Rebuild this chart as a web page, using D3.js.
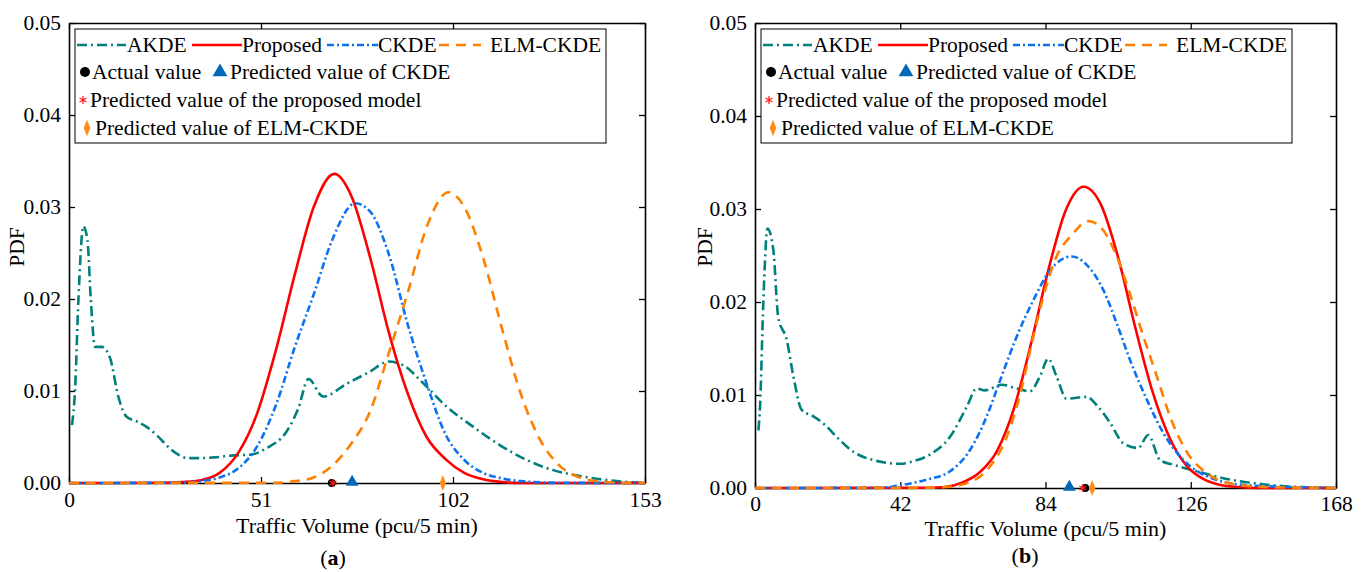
<!DOCTYPE html>
<html lang="en">
<head>
<meta charset="utf-8">
<title>PDF of traffic volume – (a) and (b)</title>
<style>
  html, body { margin:0; padding:0; background:#fff; }
  svg { display:block; font-family:"Liberation Serif","DejaVu Serif",serif; }
  text { font-family:"Liberation Serif","DejaVu Serif",serif; fill:#000; }
  .axis path, .axis line { stroke:#000; }
  .axis path { stroke-width:1.6; }
  .axis line { stroke-width:1.3; }
  .axis text { font-size:21.5px; }
</style>
</head>
<body>
<svg id="chart" width="1365" height="572"></svg>
<script src="https://cdn.jsdelivr.net/npm/d3@7"></script>
<script>
// --- panel (a): [traffic volume, pdf]
const akdeA = [[0.8,0.0063],[1.6,0.0101],[2.5,0.0199],[3.8,0.0279],[4.9,0.0264],[5.8,0.0199],[6.9,0.0148],
  [8.7,0.0148],[10.9,0.0136],[13.1,0.0094],[15.3,0.0072],[18,0.0067],[20.6,0.0061],[23.3,0.0052],
  [25.9,0.0041],[28.6,0.0032],[31.7,0.0027],[34.8,0.0027],[39,0.0028],[43.6,0.0030],[48.5,0.0031],
  [52.5,0.0038],[57.8,0.0056],[60.9,0.0081],[63.6,0.0113],[67.5,0.0094],[73.8,0.0108],[79.9,0.0121],
  [84.8,0.0132],[88.8,0.0128],[93.7,0.0110],[100.3,0.0083],[107.4,0.0061],[114.5,0.0041],
  [121.6,0.0025],[128.6,0.0014],[136.6,0.0007],[145.5,0.0002],[153,0]];
const propA = [[0,0],[25,0.00002],[30,0.0001],[35,0.0003],[40,0.0011],[45,0.0033],[50,0.0076],[55,0.0145],
  [60,0.0227],[65,0.0300],[70.5,0.0336],[75,0.0312],[80,0.0245],[85,0.0163],[90,0.0097],[95,0.0050],
  [100,0.0026],[105,0.0011],[110,0.0004],[115,0.0001],[120,0],[153,0]];
const ckdeA = [[0,0],[30,0.00003],[35,0.0002],[40,0.0006],[45,0.0016],[50,0.0040],[55,0.0085],[60,0.0148],
  [65,0.0205],[70,0.0265],[76,0.0304],[80,0.0295],[85,0.0248],[90,0.0172],[95,0.0108],[100,0.0053],
  [105,0.0025],[110,0.0011],[115,0.0005],[120,0.0002],[130,0.00003],[153,0]];
const elmA = [[0,0],[55,0.00003],[60,0.0002],[65,0.0006],[70,0.0019],[75,0.0043],[80,0.0078],[85,0.0142],
  [90,0.0207],[95,0.0278],[100.8,0.0316],[105,0.0300],[110,0.0245],[115,0.0168],[120,0.0097],
  [125,0.0048],[130,0.0020],[135,0.0007],[140,0.0002],[145,0.00005],[153,0]];
const marksA = { actual:69.8, proposed:70.1, ckde:75.2, elm:99.3 };
const xTicksA = [0, 51, 102, 153];

// --- panel (b)
const akdeB = [[1.0,0.0062],[1.45,0.0087],[2.4,0.0199],[3.6,0.0279],[5.3,0.0256],[6.7,0.0184],[9.2,0.0159],
  [11.1,0.0120],[13.5,0.0084],[16.9,0.0077],[20.2,0.0068],[23.6,0.0055],[28.4,0.0039],[34.2,0.0030],
  [41.9,0.0026],[46,0.0029],[50.6,0.0036],[56.4,0.0055],[61.2,0.0087],[64.1,0.0107],[66.5,0.0105],
  [71.3,0.0111],[75.7,0.0107],[79.5,0.0104],[82.4,0.0120],[84.8,0.0139],[87.2,0.0120],[90.1,0.0096],
  [95.9,0.0098],[98.8,0.0089],[102.7,0.0070],[106.5,0.0048],[110.8,0.0043],[113.7,0.0057],
  [117.1,0.0030],[121,0.0025],[127.7,0.0018],[137.4,0.0009],[147,0.0004],[156.6,0.0001],[168,0]];
const propB = [[0,0],[50,0.00002],[55,0.0001],[60,0.0006],[65,0.0017],[70,0.0040],[75,0.0087],[80,0.0158],
  [85,0.0237],[90,0.0300],[95,0.0324],[100,0.0305],[105,0.0248],[110,0.0172],[115,0.0103],[120,0.0053],
  [125,0.0023],[130,0.0009],[135,0.0003],[140,0.0001],[145,0],[168,0]];
const ckdeB = [[0,0],[36,0.00002],[42,0.0003],[49.6,0.0009],[56.4,0.0018],[62.2,0.0041],[67,0.0077],
  [70.9,0.0116],[75.7,0.0163],[80.5,0.0202],[85.3,0.0234],[91.6,0.0249],[95.9,0.0240],[100.7,0.0213],
  [104.6,0.0177],[108.4,0.0138],[113.3,0.0095],[118.1,0.0059],[123.9,0.0030],[132.5,0.0010],
  [142.2,0.0003],[156.6,0.0001],[168,0]];
const elmB = [[0,0],[50.6,0.00002],[55,0.0001],[60.2,0.0004],[67,0.0019],[72.8,0.0055],[76.6,0.0100],
  [80.5,0.0163],[83.9,0.0213],[87.2,0.0249],[91.6,0.0272],[96.4,0.0287],[99.8,0.0281],[104.6,0.0249],
  [108.4,0.0209],[112.3,0.0163],[116.2,0.0120],[120,0.0077],[124.8,0.0039],[130.6,0.0016],
  [137.4,0.0005],[147,0.0001],[168,0]];
const marksB = { actual:95.5, proposed:94.8, ckde:90.9, elm:97.5 };
const xTicksB = [0, 42, 84, 126, 168];

const yTicks = [0, 0.01, 0.02, 0.03, 0.04, 0.05];
const seriesNames = ["AKDE", "Proposed", "CKDE", "ELM-CKDE"];

// line styles
const styles = {
  "AKDE":     { color:"#00807b", dash:"10,4,2,4" },
  "Proposed": { color:"#ff0000", dash:null },
  "CKDE":     { color:"#0a72f0", dash:"7,3,2,3" },
  "ELM-CKDE": { color:"#ff8000", dash:"10,7" }
};
const markColor = { actual:"#000", proposed:"#ff2020", ckde:"#0068b8", elm:"#ff8c1a" };

const panels = [
  { tag:"a", left:69, right:645, top:23, bottom:483, xMax:153, xTicks:xTicksA, tickPad:9,
    data:[akdeA, propA, ckdeA, elmA], marks:marksA, xLabelGap:50, tagY:565, tagX:333, pdfX:24 },
  { tag:"b", left:755, right:1336, top:23, bottom:488, xMax:168, xTicks:xTicksB, tickPad:8,
    data:[akdeB, propB, ckdeB, elmB], marks:marksB, xLabelGap:48, tagY:563, tagX:1025, pdfX:712 }
];

const svg = d3.select("#chart");
const sym = (type, size) => d3.symbol().type(type).size(size)();

function drawMarks(g, x, y, m) {
  // markers of the values, sitting on the zero line
  g.append("circle").attr("cx", x(m.actual)).attr("cy", y(0)).attr("r", 4).attr("fill", markColor.actual);
  g.append("path").attr("d", sym(d3.symbolAsterisk, 45))
    .attr("transform", `translate(${x(m.proposed)},${y(0)})`)
    .attr("fill", "none").attr("stroke", markColor.proposed).attr("stroke-width", 1.3);
  g.append("path").attr("d", sym(d3.symbolTriangle, 70))
    .attr("transform", `translate(${x(m.ckde)},${y(0) - 1})`).attr("fill", markColor.ckde);
  g.append("path").attr("d", sym(d3.symbolDiamond, 55))
    .attr("transform", `translate(${x(m.elm)},${y(0)}) scale(0.8,1.15)`).attr("fill", markColor.elm);
}

panels.forEach(p => {
  const x = d3.scaleLinear().domain([0, p.xMax]).range([p.left, p.right]);
  const y = d3.scaleLinear().domain([0, 0.05]).range([p.bottom, p.top]);
  const g = svg.append("g");

  // frame + inward ticks on all four sides
  g.append("g").attr("class", "axis").attr("transform", `translate(0,${p.bottom})`)
    .call(d3.axisBottom(x).tickValues(p.xTicks).tickFormat(d3.format("d"))
      .tickSizeInner(-6).tickSizeOuter(0).tickPadding(p.tickPad));
  g.append("g").attr("class", "axis").attr("transform", `translate(0,${p.top})`)
    .call(d3.axisTop(x).tickValues(p.xTicks).tickFormat("").tickSizeInner(-6).tickSizeOuter(0));
  g.append("g").attr("class", "axis").attr("transform", `translate(${p.left},0)`)
    .call(d3.axisLeft(y).tickValues(yTicks).tickFormat(d3.format(".2f"))
      .tickSizeInner(-6).tickSizeOuter(0).tickPadding(8));
  g.append("g").attr("class", "axis").attr("transform", `translate(${p.right},0)`)
    .call(d3.axisRight(y).tickValues(yTicks).tickFormat("").tickSizeInner(-6).tickSizeOuter(0));
  g.selectAll(".axis").attr("font-family", null);

  const line = d3.line().x(d => x(d[0])).y(d => y(d[1])).curve(d3.curveMonotoneX);
  seriesNames.forEach((name, i) => {
    g.append("path").datum(p.data[i]).attr("d", line)
      .attr("fill", "none").attr("stroke", styles[name].color).attr("stroke-width", 2.6)
      .attr("stroke-dasharray", styles[name].dash);
  });
  drawMarks(g, x, y, p.marks);

  // axis titles
  g.append("text").attr("x", (p.left + p.right) / 2).attr("y", p.bottom + p.xLabelGap)
    .attr("text-anchor", "middle").attr("font-size", 22).text("Traffic Volume (pcu/5 min)");
  g.append("text").attr("transform", `translate(${p.pdfX},${247}) rotate(-90)`)
    .attr("text-anchor", "middle").attr("font-size", 21.5).text("PDF");
  const tg = g.append("text").attr("x", p.tagX).attr("y", p.tagY)
    .attr("text-anchor", "middle").attr("font-size", 22);
  tg.append("tspan").text("(");
  tg.append("tspan").attr("font-weight", "bold").text(p.tag);
  tg.append("tspan").text(")");

  // legend
  const lx = p.left + 6, ly = 29;
  const lg = g.append("g").attr("transform", `translate(${lx},${ly})`);
  lg.append("rect").attr("width", 531).attr("height", 114).attr("fill", "#fff")
    .attr("stroke", "#000").attr("stroke-width", 1);
  const row1 = [[2, 51, 52], [117, 167, 167], [252, 303, 303], [364, 406, 415]];
  seriesNames.forEach((name, i) => {
    const [a, b, t] = row1[i];
    lg.append("line").attr("x1", a).attr("x2", b).attr("y1", 16).attr("y2", 16)
      .attr("stroke", styles[name].color).attr("stroke-width", 2.6)
      .attr("stroke-dasharray", styles[name].dash);
    lg.append("text").attr("x", t).attr("y", 23).attr("font-size", 21.5).text(name);
  });
  lg.append("circle").attr("cx", 10).attr("cy", 43).attr("r", 5).attr("fill", markColor.actual);
  lg.append("text").attr("x", 17).attr("y", 50).attr("font-size", 21.5).text("Actual value");
  lg.append("path").attr("d", sym(d3.symbolTriangle, 95))
    .attr("transform", "translate(145,43)").attr("fill", markColor.ckde);
  lg.append("text").attr("x", 155).attr("y", 50).attr("font-size", 21.5).text("Predicted value of CKDE");
  lg.append("path").attr("d", sym(d3.symbolAsterisk, 45))
    .attr("transform", "translate(8,71)").attr("fill", "none")
    .attr("stroke", markColor.proposed).attr("stroke-width", 1.3);
  lg.append("text").attr("x", 15).attr("y", 78).attr("font-size", 21.5)
    .text("Predicted value of the proposed model");
  lg.append("path").attr("d", sym(d3.symbolDiamond, 60))
    .attr("transform", "translate(12,99) scale(0.8,1.15)").attr("fill", markColor.elm);
  lg.append("text").attr("x", 20).attr("y", 106).attr("font-size", 21.5)
    .text("Predicted value of ELM-CKDE");
});
</script>
</body>
</html>
